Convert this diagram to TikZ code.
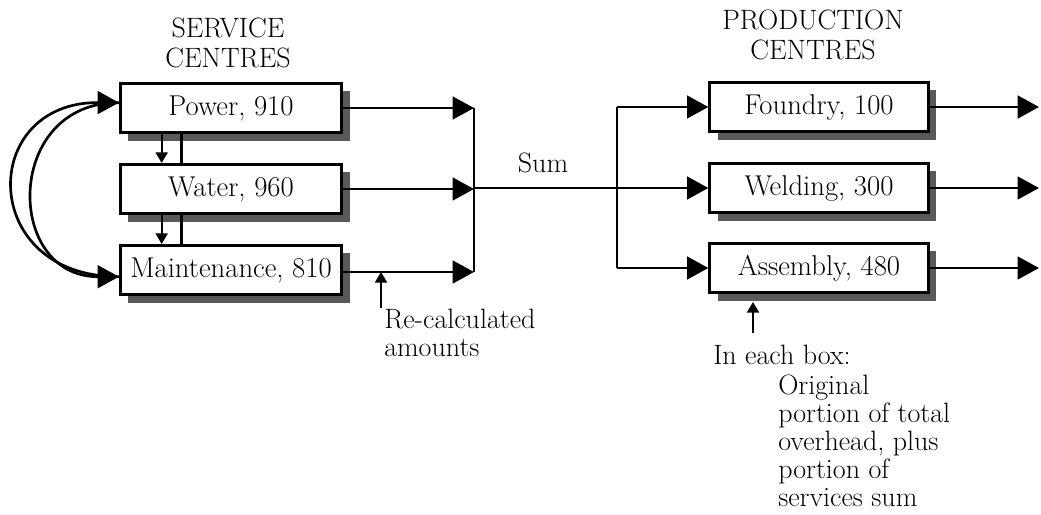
\documentclass[tikz,border=0pt]{standalone}
\usetikzlibrary{arrows.meta,shadows,positioning}

\begin{document}
\begin{tikzpicture}[x=0.75pt,y=-0.75pt,
		centre/.style={draw,line width=2pt,fill=white,minimum width=166pt,minimum height=37pt,inner sep=0pt,
			font=\fontsize{21.5}{24}\selectfont,
			drop shadow={shadow xshift=6pt,shadow yshift=-6pt,fill=black!65,opacity=1}},
		flow/.style={line width=2pt,-{Triangle[length=16pt,width=17pt]}},
		thin flow/.style={line width=1.6pt,-{Triangle[length=8pt,width=9pt]}},
		wire/.style={line width=2pt},
		heading/.style={align=center,font=\fontsize{21}{22.5}\selectfont},
		note/.style={align=left,inner sep=0pt,font=\fontsize{21}{21}\selectfont}]
			\useasboundingbox (0,0) rectangle (1041,514);
			% titles
			\node [heading] (service) at (228,43) {SERVICE\\CENTRES};
			\node [heading] (production) at (813,35) {PRODUCTION\\CENTRES};
			% service centres
			\node [centre] (power) at (231,108) {Power, 910};
			\node [centre] (water) at (231,189) {Water, 960};
			\node [centre] (maint) at (231,270) {Maintenance, 810};
			% production centres
			\node [centre,minimum width=164pt] (foundry) at (819,107) {Foundry, 100};
			\node [centre,minimum width=164pt] (welding) at (819,188) {Welding, 300};
			\node [centre,minimum width=164pt] (assembly) at (819,268) {Assembly, 480};
			% re-apportioning between service centres
			\draw [thin flow] ([xshift=-52pt]power.south) -- ([xshift=-52pt]water.north);
			\draw [wire] ([xshift=-37pt]water.north) -- ([xshift=-37pt]power.south);
			\draw [thin flow] ([xshift=-52pt]water.south) -- ([xshift=-52pt]maint.north);
			\draw [wire] ([xshift=-37pt]maint.north) -- ([xshift=-37pt]water.south);
			\draw [flow] ([yshift=-5pt]maint.west) .. controls (-22,277) and (-22,102) .. ([yshift=4pt]power.west);
			\draw [flow] ([yshift=4pt]power.west) .. controls (4,102) and (4,277) .. ([yshift=-5pt]maint.west);
			% collecting the services sum
			\coordinate (collect) at (474,188);
			\coordinate (split) at (617,188);
			\draw [flow] (power.east) -- (power.east -| collect);
			\draw [flow] (water.east) -- (water.east -| collect);
			\draw [flow] ([yshift=-1.5pt]maint.east) -- ([yshift=-1.5pt]maint.east -| collect);
			\draw [wire] (power.east -| collect) -- ([yshift=-1.5pt]maint.east -| collect);
			\draw [flow] (collect) -- (welding.west);
			\node (sum) at (543,163) {\fontsize{21}{22}\selectfont Sum};
			% sharing out to production centres
			\draw [wire] (foundry.west -| split) -- (assembly.west -| split);
			\draw [flow] (foundry.west -| split) -- (foundry.west);
			\draw [flow] (assembly.west -| split) -- (assembly.west);
			\coordinate (fout) at (1039,107);
			\coordinate (wout) at (1039,188);
			\coordinate (aout) at (1039,268);
			\draw [flow] (foundry.east) -- (fout);
			\draw [flow] (welding.east) -- (wout);
			\draw [flow] (assembly.east) -- (aout);
			% notes
			\coordinate (recalc) at (381,308);
			\draw [thin flow] (recalc) -- ([yshift=-1.5pt]recalc |- maint.east);
			\node [note,anchor=north west] (recalcnote) at (384,309) {Re-calculated\\amounts};
			\coordinate (boxnote) at (753,333);
			\draw [thin flow] (boxnote) -- ([yshift=-6pt]boxnote |- assembly.south);
			\node [note,anchor=north west] (eachbox) at (713,345) {In each box:};
			\node [note,anchor=north west] (contents) at (778,375) {Original\\portion of total\\overhead, plus\\portion of\\services sum};
		\end{tikzpicture}
\end{document}
